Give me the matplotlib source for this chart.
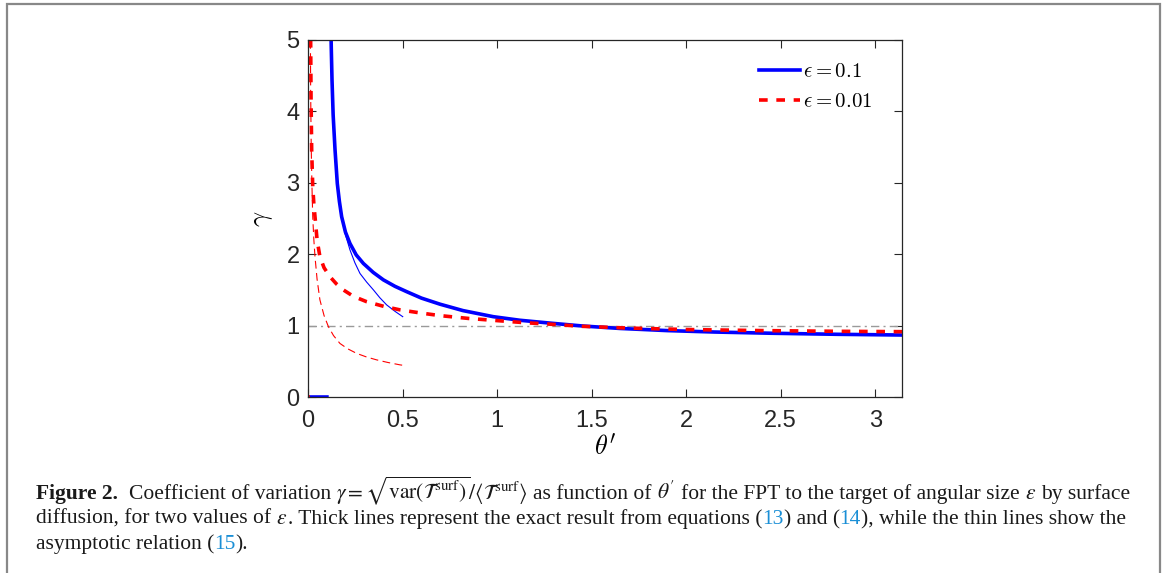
import numpy as np
import matplotlib
matplotlib.use("Agg")
import matplotlib.pyplot as plt
import matplotlib.transforms as mtransforms
from matplotlib.patches import Rectangle

nan = np.nan

# exact result, eps = 0.1 (zero below the target edge, then the divergent branch)
theta_exact_01 = [0, 0.1, nan, 0.12, 0.123, 0.127, 0.133, 0.143, 0.155, 0.166, 0.178,
                  0.198, 0.222, 0.255, 0.293, 0.345, 0.399, 0.46, 0.522, 0.6, 0.698,
                  0.82, 0.98, 1.12, 1.28, 1.45, 1.65, 1.9, 2.15, 2.45, 2.8, np.pi]
gamma_exact_01 = [0, 0, nan, 5.3, 4.9, 4.44, 3.95, 3.46, 2.99, 2.74, 2.525,
                  2.31, 2.15, 1.99, 1.87, 1.745, 1.64, 1.55, 1.475, 1.385, 1.30,
                  1.21, 1.125, 1.075, 1.035, 0.995, 0.96, 0.93, 0.91, 0.893, 0.878, 0.868]

# asymptotic relation, eps = 0.1
theta_asym_01 = [0.12, 0.123, 0.127, 0.133, 0.143, 0.155, 0.17, 0.195, 0.222, 0.248,
                 0.275, 0.31, 0.346, 0.38, 0.416, 0.46, 0.501]
gamma_asym_01 = [5.3, 4.9, 4.44, 3.95, 3.44, 2.97, 2.62, 2.30, 2.06, 1.88,
                 1.73, 1.61, 1.50, 1.39, 1.29, 1.20, 1.125]

# exact result, eps = 0.01
theta_exact_001 = [0, 0.01, nan, 0.0125, 0.014, 0.016, 0.0194, 0.025, 0.031, 0.037,
                   0.048, 0.063, 0.085, 0.116, 0.15, 0.187, 0.24, 0.31, 0.4, 0.487,
                   0.6, 0.698, 0.85, 1.0, 1.15, 1.28, 1.45, 1.7, 2.0, 2.4, 2.8, np.pi]
gamma_exact_001 = [0, 0, nan, 5.5, 5.0, 4.2, 3.46, 2.95, 2.7, 2.525,
                   2.2, 1.965, 1.81, 1.685, 1.585, 1.50, 1.41, 1.335, 1.27, 1.22,
                   1.175, 1.14, 1.10, 1.07, 1.04, 1.02, 0.99, 0.965, 0.945, 0.93, 0.92, 0.915]

# asymptotic relation, eps = 0.01
theta_asym_001 = [0.012, 0.014, 0.017, 0.021, 0.025, 0.031, 0.037, 0.048, 0.063, 0.085,
                  0.108, 0.135, 0.169, 0.21, 0.258, 0.31, 0.363, 0.42, 0.487, 0.5]
gamma_asym_001 = [5.5, 4.3, 3.5, 2.95, 2.525, 2.2, 1.965, 1.65, 1.36, 1.14,
                  0.985, 0.86, 0.75, 0.675, 0.61, 0.56, 0.52, 0.485, 0.45, 0.445]

x_ticks = [0, 0.5, 1, 1.5, 2, 2.5, 3]
x_ticklabels = ["0", "0.5", "1", "1.5", "2", "2.5", "3"]
y_ticks = [0, 1, 2, 3, 4, 5]
legend_labels = [r"$\epsilon = 0.1$", r"$\epsilon = 0.01$"]

W, H = 1165, 573
fig = plt.figure(figsize=(W / 100, H / 100), dpi=100)
pix = mtransforms.IdentityTransform()

# page frame
fig.patches.append(Rectangle((7, -5), 1153, 574, transform=pix, fill=False,
                             edgecolor="#888888", linewidth=1.6))

ax = fig.add_axes([308 / W, (H - 397) / H, 594 / W, 357 / H])
axc = "#262626"

ax.axhline(1, color="#9a9a9a", linewidth=1.0, linestyle=(0, (6, 3, 1.5, 3)))
ax.plot(theta_asym_01, gamma_asym_01, color="#0000ff", linewidth=0.8)
ax.plot(theta_asym_001, gamma_asym_001, color="#ff0000", linewidth=0.8,
        linestyle=(0, (7, 4)))
h1, = ax.plot(theta_exact_01, gamma_exact_01, color="#0000ff", linewidth=2.6,
              label=legend_labels[0])
h2, = ax.plot(theta_exact_001, gamma_exact_001, color="#ff0000", linewidth=2.6,
              linestyle=(0, (2.4, 2.4)), label=legend_labels[1])

ax.set_xlim(0, np.pi)
ax.set_ylim(0, 5)
ax.set_xticks(x_ticks)
ax.set_xticklabels(x_ticklabels)
ax.set_yticks(y_ticks)
ax.tick_params(direction="in", top=True, right=True, length=6, width=0.8,
               color=axc, labelcolor=axc, labelsize=17, pad=6)
ax.tick_params(axis="x", pad=9.5)
for lbl in ax.get_xticklabels() + ax.get_yticklabels():
    lbl.set_fontfamily("Liberation Sans")
for sp in ax.spines.values():
    sp.set_color(axc)
    sp.set_linewidth(0.9)

ax.set_xlabel(r"$\theta'$", fontsize=19, math_fontfamily="cm", labelpad=2)
ax.set_ylabel(r"$\gamma$", fontsize=19, math_fontfamily="cm", labelpad=8)

leg = ax.legend(handles=[h1, h2], loc="upper right", frameon=False,
                handlelength=2.0, handletextpad=0.12, labelspacing=0.5,
                borderaxespad=0.6, borderpad=0.4, prop={"size": 15},
                bbox_to_anchor=(0.985, 1.0))
for t in leg.get_texts():
    t.set_math_fontfamily("cm")

# caption, drawn piece by piece so that bold / coloured runs sit inline
renderer = fig.canvas.get_renderer()
cap = dict(fontsize=15.5, family="Liberation Serif", math_fontfamily="stix",
           color="#1a1a1a", va="baseline")
link = "#1a8fd6"
probe1 = fig.text(0, 0, "x x", transform=pix, **cap)
probe2 = fig.text(0, 0, "xx", transform=pix, **cap)
space_w = (probe1.get_window_extent(renderer).width
           - probe2.get_window_extent(renderer).width)
probe1.remove()
probe2.remove()


def put_line(x, y, pieces):
    for txt, extra in pieces:
        while txt.startswith(" "):
            x += space_w
            txt = txt[1:]
        kw = dict(cap)
        kw.update(extra)
        t = fig.text(x, y, txt, transform=pix, **kw)
        x += t.get_window_extent(renderer).width


tsurf = r"\mathcal{T}^{\mathrm{surf}}"
put_line(36, H - 499, [
    ("Figure 2.", {"weight": "bold"}),
    ("  Coefficient of variation", {}),
    (r" $\gamma = \sqrt{\mathrm{var}(" + tsurf + r")}/\langle " + tsurf + r"\rangle$", {}),
    (" as function of", {}),
    (r" $\theta'$", {}),
    (" for the FPT to the target of angular size", {}),
    (r" $\varepsilon$", {}),
    (" by surface", {}),
])
put_line(36, H - 524, [
    ("diffusion, for two values of", {}),
    (r" $\varepsilon$", {}),
    (". Thick lines represent the exact result from equations (", {}),
    ("13", {"color": link}),
    (") and (", {}),
    ("14", {"color": link}),
    ("), while the thin lines show the", {}),
])
put_line(36, H - 549, [
    ("asymptotic relation (", {}),
    ("15", {"color": link}),
    (").", {}),
])

fig.savefig("out.png", dpi=100)
